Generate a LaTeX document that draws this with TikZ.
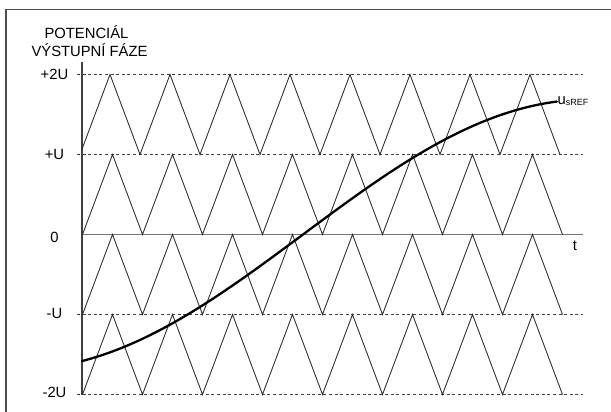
\documentclass[tikz,border=0pt]{standalone}
\usepackage{fontspec}
\setmainfont{Liberation Sans}
\begin{document}
\begin{tikzpicture}[x=1pt,y=-1pt,
  lbl/.style={inner sep=0pt,anchor=base,font=\fontsize{14.8}{17}\selectfont},
  levelline/.style={draw=black!75,line width=0.8pt,dash pattern=on 3pt off 2.6pt},
  carrier/.style={draw=black!85,line width=0.85pt,line join=miter},
  refcurve/.style={draw=black,line width=2.3pt}]
\useasboundingbox (0,0) rectangle (611,412);
% frame
\draw[black!70,line width=1.4pt] (6,412) -- (6,9.5) -- (611,9.5);
% coordinates of axis
\coordinate (axtop) at (82,62);
\coordinate (axbot) at (82,394.5);
\coordinate (zs) at (82,234.5);
\coordinate (ze) at (583,234.5);
% dashed level lines
\foreach \yy in {74.5,154.5,314.5,394.5}
  \draw[levelline] (77,\yy) -- (583,\yy);
% zero axis
\draw[black!55,line width=1.8pt] (zs) -- (ze);
% vertical axis
\draw[black!75,line width=1.1pt] (axtop) -- (axbot);
% band 1 (+U .. +2U)
\draw[carrier] (82,149.2)
  \foreach \k in {0,...,7} { -- ({110+60*\k},74.5) -- ({140+60*\k},154.5) };
% bands 2..4
\foreach \bot/\top in {234.5/154.5, 314.5/234.5, 394.5/314.5}
  \draw[carrier] (82.5,\bot)
    \foreach \k in {0,...,7} { -- ({112.5+60*\k},\top) -- ({142.5+60*\k},\bot) };
% reference curve
\draw[refcurve,line cap=round] plot[domain=82:557,samples=120,smooth]
  (\x,{234.5-135*sin(0.3151*(\x-303))});
% labels
\node[lbl] (l2u) at (54.5,80) {+2U};
\node[lbl] (l1u) at (54.5,159.8) {+U};
\node[lbl] (l0) at (54.5,242.3) {0};
\node[lbl] (lm1u) at (54.5,318.3) {-U};
\node[lbl] (lm2u) at (54.5,397.7) {-2U};
\node[lbl] (title1) at (86.5,38.5) {POTENCIÁL};
\node[lbl] (title2) at (89.5,56.7) {VÝSTUPNÍ FÁZE};
\node[lbl,anchor=base west] (uref) at (557.5,104)
  {u\raisebox{-1.6pt}{\fontsize{9}{10}\selectfont sREF}};
\node[lbl] (tlbl) at (575,250.5) {t};
\end{tikzpicture}
\end{document}
